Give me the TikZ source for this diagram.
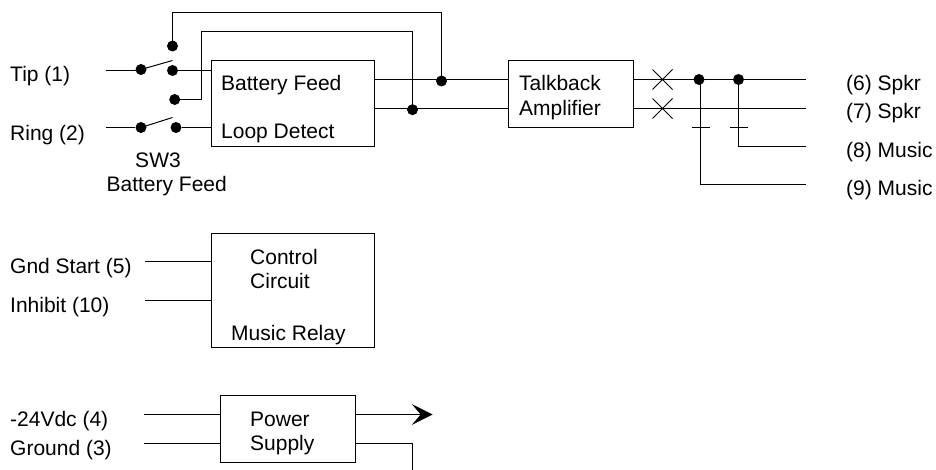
\documentclass[tikz,border=0pt]{standalone}
\usepackage{fontspec}
\setmainfont{Liberation Sans}
\usetikzlibrary{arrows.meta}
\tikzset{
  wire/.style={draw=black,line width=1pt},
  dot/.style={circle,fill=black,draw=none,minimum size=11pt,inner sep=0pt},
  blockbox/.style={draw=black,line width=1pt,inner sep=0pt,fill=none},
  lab/.style={anchor=base west,inner sep=0pt,font=\fontsize{21}{24}\selectfont,text=black},
  labc/.style={anchor=base,inner sep=0pt,font=\fontsize{21}{24}\selectfont,text=black},
}
\begin{document}
\begin{tikzpicture}[x=1pt,y=-1pt]
\useasboundingbox (0,0) rectangle (936,470);
% boxes
\node[blockbox,minimum width=163pt,minimum height=86pt] (feed) at (293,103.5) {};
\node[blockbox,minimum width=125pt,minimum height=67pt] (talk) at (571,94) {};
\node[blockbox,minimum width=163pt,minimum height=114pt] (ctrl) at (293,290.5) {};
\node[blockbox,minimum width=135pt,minimum height=67pt] (psu) at (288,429) {};
% labels
\node[lab] (tTip) at (10,81.7) {Tip (1)};
\node[lab] (tRing) at (10,140.2) {Ring (2)};
\node[labc] (tSw) at (158,167.7) {SW3};
\node[labc] (tSwb) at (166.7,191.7) {Battery Feed};
\node[lab] (tFeed) at (221,90.7) {Battery Feed};
\node[lab] (tLoop) at (221,138.3) {Loop Detect};
\node[lab] (tTb) at (519,90.7) {Talkback};
\node[lab] (tAmp) at (519,116) {Amplifier};
\node[lab] (t6) at (846,90.7) {(6) Spkr};
\node[lab] (t7) at (846,119) {(7) Spkr};
\node[lab] (t8) at (846,157.3) {(8) Music};
\node[lab] (t9) at (846,196) {(9) Music};
\node[lab] (tGnd) at (10,273.5) {Gnd Start (5)};
\node[lab] (tInh) at (10,312.5) {Inhibit (10)};
\node[lab] (tCtl) at (250,264.3) {Control};
\node[lab] (tCir) at (250,288) {Circuit};
\node[lab] (tRel) at (231,340) {Music Relay};
\node[lab] (tV) at (10,426.7) {-24Vdc (4)};
\node[lab] (tG) at (10,455) {Ground (3)};
\node[lab] (tPow) at (250,426) {Power};
\node[lab] (tSup) at (250,450.7) {Supply};
% dots
\node[dot] (s1p) at (141,69.5) {};
\node[dot] (s1c) at (172.5,70.5) {};
\node[dot] (s1t) at (172.5,46) {};
\node[dot] (s1l) at (174.7,99.5) {};
\node[dot] (s2p) at (141,127.5) {};
\node[dot] (s2c) at (176,127.5) {};
\node[dot] (j1) at (441.5,81) {};
\node[dot] (j2) at (412.5,109.7) {};
\node[dot] (j3) at (699,79.5) {};
\node[dot] (j4) at (738.5,79.5) {};
% free ends
\coordinate (tipin) at (105.5,70.5);
\coordinate (ringin) at (105.5,127.5);
\coordinate (s1arm) at (172.5,60.5);
\coordinate (s2arm) at (172.5,117.5);
\coordinate (o6) at (805.5,79.5);
\coordinate (o7) at (805.5,108.5);
\coordinate (o8) at (805.5,146.5);
\coordinate (o9) at (805.5,184.5);
\coordinate (a1) at (172.5,12.5);
\coordinate (a2) at (441.5,12.5);
\coordinate (b1) at (201.5,99.5);
\coordinate (b2) at (201.5,31.5);
\coordinate (b3) at (412.5,31.5);
\coordinate (f1) at (374.5,79.5);
\coordinate (f2) at (374.5,108.5);
\coordinate (v3) at (700.5,79.5);
\coordinate (g1) at (145,261.5);
\coordinate (g2) at (145,300.5);
\coordinate (v1) at (144,414.5);
\coordinate (v2) at (144,443.5);
\coordinate (pa) at (432.7,414.5);
\coordinate (pb) at (412.5,443.5);
\coordinate (pc) at (412.5,470);
% switches
\draw[wire] (tipin) -- (tipin -| s1p);
\draw[wire] (s1p.center) -- (s1arm);
\draw[wire] (s1c) -- (s1c -| feed.west);
\draw[wire] (ringin) -- (s2p);
\draw[wire] (s2p.center) -- (s2arm);
\draw[wire] (s2c) -- (s2c -| feed.west);
\draw[wire] (s1t.center) -- (a1) -- (a2) -- (j1.center);
\draw[wire] (s1l.center) -- (b1) -- (b2) -- (b3) -- (j2.center);
% signal path
\draw[wire] (f1) -- (talk.west |- f1);
\draw[wire] (f2) -- (talk.west |- f2);
\draw[wire] (talk.east |- o6) -- (o6);
\draw[wire] (talk.east |- o7) -- (o7);
\draw[wire] (v3) -- (v3 |- o9) -- (o9);
\draw[wire] (j4.center) -- (j4 |- o8) -- (o8);
% crosses
\draw[wire] (652.5,69.5) -- (672.5,89.5) (652.5,89.5) -- (672.5,69.5);
\draw[wire] (652.5,98.5) -- (672.5,118.5) (652.5,118.5) -- (672.5,98.5);
% ticks
\draw[wire] (691.5,127.5) -- (710,127.5) (729.5,127.5) -- (748,127.5);
% control
\draw[wire] (g1) -- (g1 -| ctrl.west);
\draw[wire] (g2) -- (g2 -| ctrl.west);
% power
\draw[wire] (v1) -- (v1 -| psu.west);
\draw[wire] (v2) -- (v2 -| psu.west);
\draw[wire,-{Stealth[length=21pt,width=21pt,inset=9pt]}] (psu.east |- pa) -- (pa);
\draw[wire] (psu.east |- pb) -- (pb) -- (pc);
\end{tikzpicture}
\end{document}
